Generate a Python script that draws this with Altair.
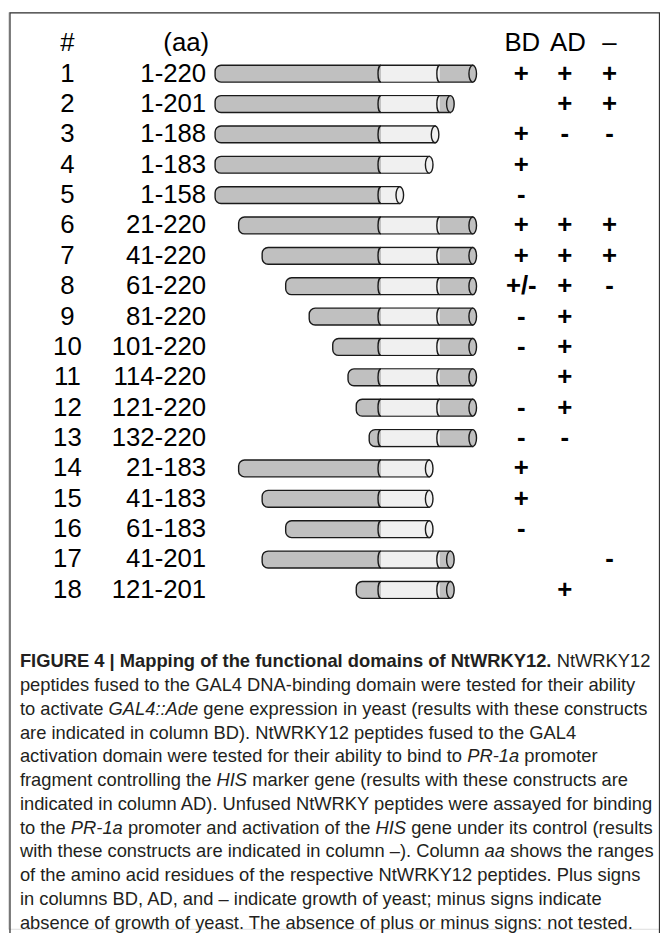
import altair as alt
import pandas as pd

# ---------------- data ----------------
rows = list(range(1, 19))
starts = [1, 1, 1, 1, 1, 21, 41, 61, 81, 101, 114, 121, 132, 21, 41, 61, 41, 121]
ends = [220, 201, 188, 183, 158, 220, 220, 220, 220, 220, 220, 220, 220, 183, 183, 183, 201, 201]
bd = ["+", "", "+", "+", "-", "+", "+", "+/-", "-", "-", "", "-", "-", "+", "+", "-", "", ""]
ad = ["+", "+", "-", "", "", "+", "+", "+", "+", "+", "+", "+", "-", "", "", "", "", "+"]
un = ["+", "+", "-", "", "", "+", "+", "-", "", "", "", "", "", "", "", "", "-", ""]
light_from = 142   # start of the light (central) domain, residue
light_to = 192     # end of the light domain, residue
headers = ["#", "(aa)", "BD", "AD", "\u2013"]

caption_lines = [
    [("FIGURE 4 | Mapping of the functional domains of NtWRKY12.", "bold"), (" NtWRKY12", "normal")],
    [("peptides fused to the GAL4 DNA-binding domain were tested for their ability", "normal")],
    [("to activate ", "normal"), ("GAL4::Ade", "italic"), (" gene expression in yeast (results with these constructs", "normal")],
    [("are indicated in column BD). NtWRKY12 peptides fused to the GAL4", "normal")],
    [("activation domain were tested for their ability to bind to ", "normal"), ("PR-1a", "italic"), (" promoter", "normal")],
    [("fragment controlling the ", "normal"), ("HIS", "italic"), (" marker gene (results with these constructs are", "normal")],
    [("indicated in column AD). Unfused NtWRKY peptides were assayed for binding", "normal")],
    [("to the ", "normal"), ("PR-1a", "italic"), (" promoter and activation of the ", "normal"), ("HIS", "italic"), (" gene under its control (results", "normal")],
    [("with these constructs are indicated in column \u2013). Column ", "normal"), ("aa", "italic"), (" shows the ranges", "normal")],
    [("of the amino acid residues of the respective NtWRKY12 peptides. Plus signs", "normal")],
    [("in columns BD, AD, and \u2013 indicate growth of yeast; minus signs indicate", "normal")],
    [("absence of growth of yeast. The absence of plus or minus signs: not tested.", "normal")],
]

# ---------------- layout ----------------
W, H = 658, 925
FONT = "Liberation Sans"
GRAY = "#c0c0c0"
LIGHT = "#f0f0f0"
INK = "#1a1a1a"
SW = 1.4
BAR_H = 17.0

# x: residue -> pixel (residue 1 at px 209, residue 220 at px 469)
bx = (469 - 209) / 219.0
ax = 209 - bx
xdom = [(0 - ax) / bx, (W - ax) / bx]
# y: row -> pixel (row 1 at 62, row 18 at 583)
step = (583 - 62) / 17.0
ydom = [1 - 62 / step, 1 + (H - 62) / step]
xs = alt.Scale(domain=xdom, range=[0, W], nice=False, zero=False)
ys = alt.Scale(domain=ydom, range=[0, H], nice=False, zero=False)

hb = BAR_H / 2 / step
hl = (BAR_H / 2 - SW / 2) / step

bars = pd.DataFrame({"row": rows, "start": starts, "end": ends})
bars["y1"] = bars["row"] - hb
bars["y2"] = bars["row"] + hb
bars["ly1"] = bars["row"] - hl
bars["ly2"] = bars["row"] + hl

light = bars[(bars["start"] < light_to) & (bars["end"] > light_from)].copy()
light["ls"] = light["start"].clip(lower=light_from)
light["le"] = light["end"].clip(upper=light_to)

bnd = []
for r, s, e in zip(rows, starts, ends):
    for b in (light_from, light_to):
        if s < b < e:
            bnd.append({"row": r, "pos": b})
bnd = pd.DataFrame(bnd)

caps = bars.copy()
caps["capfill"] = [LIGHT if light_from < e <= light_to else GRAY for e in ends]

CAP_PATH = "M0.45,0 A0.45,1 0 1,1 -0.45,0 A0.45,1 0 1,1 0.45,0 Z"
ARC_PATH = "M0,-1 A0.35,1 0 0,0 0,1"

X_NUM, X_AA, X_BD, X_AD, X_UN = 60, 200, 518, 562, 607

base = alt.Chart(bars).mark_rect(
    fill=GRAY, stroke=INK, strokeWidth=SW,
    cornerRadiusTopLeft=6, cornerRadiusBottomLeft=6
).encode(
    x=alt.X("start:Q", scale=xs, axis=None), x2="end:Q",
    y=alt.Y("y1:Q", scale=ys, axis=None), y2="y2:Q",
)

lightl = alt.Chart(light).mark_rect(fill=LIGHT, strokeWidth=0).encode(
    x=alt.X("ls:Q", scale=xs, axis=None), x2="le:Q",
    y=alt.Y("ly1:Q", scale=ys, axis=None), y2="ly2:Q",
)

arcs = alt.Chart(bnd).mark_point(
    shape=ARC_PATH, filled=False, stroke=INK, strokeWidth=SW, size=BAR_H ** 2, opacity=1
).encode(
    x=alt.X("pos:Q", scale=xs, axis=None),
    y=alt.Y("row:Q", scale=ys, axis=None),
)

capl = alt.Chart(caps).mark_point(
    shape=CAP_PATH, filled=True, stroke=INK, strokeWidth=SW, size=BAR_H ** 2, opacity=1
).encode(
    x=alt.X("end:Q", scale=xs, axis=None),
    y=alt.Y("row:Q", scale=ys, axis=None),
    fill=alt.Fill("capfill:N", scale=None),
)

lab = pd.DataFrame({
    "row": rows,
    "num": [str(r) for r in rows],
    "rng": [f"{s}-{e}" for s, e in zip(starts, ends)],
})
numt = alt.Chart(lab).mark_text(font=FONT, fontSize=26, align="center", baseline="middle", color="black").encode(
    x=alt.value(X_NUM), y=alt.Y("row:Q", scale=ys, axis=None), text="num:N")
rngt = alt.Chart(lab).mark_text(font=FONT, fontSize=26, align="right", baseline="middle", color="black").encode(
    x=alt.value(X_AA), y=alt.Y("row:Q", scale=ys, axis=None), text="rng:N")

sym = []
for r, a, b, c in zip(rows, bd, ad, un):
    for px, v in ((X_BD, a), (X_AD, b), (X_UN, c)):
        if v:
            sym.append({"row": r, "px": px, "s": v})
sym = pd.DataFrame(sym)
symt = alt.Chart(sym).mark_text(font=FONT, fontSize=26, fontWeight="bold", align="center", baseline="middle", color="black").encode(
    x=alt.X("px:Q", scale=None), y=alt.Y("row:Q", scale=ys, axis=None), text="s:N")

hdr = pd.DataFrame({
    "row": [0] * 5,
    "px": [X_NUM, X_AA + 3, X_BD + 1, X_AD + 3, X_UN],
    "al": ["center", "right", "center", "center", "center"],
    "t": headers,
})
hdr_c = alt.Chart(hdr[hdr["al"] == "center"]).mark_text(font=FONT, fontSize=26, align="center", baseline="middle", color="black").encode(
    x=alt.X("px:Q", scale=None), y=alt.Y("row:Q", scale=ys, axis=None), text="t:N")
hdr_r = alt.Chart(hdr[hdr["al"] == "right"]).mark_text(font=FONT, fontSize=26, align="right", baseline="middle", color="black").encode(
    x=alt.X("px:Q", scale=None), y=alt.Y("row:Q", scale=ys, axis=None), text="t:N")

# ---- caption: place styled runs using Arial/Liberation metrics ----
REG = {" ": 278, "(": 333, ")": 333, ",": 278, "-": 333, ".": 278, "/": 278, ":": 278, ";": 278, "|": 260, "\u2013": 556}
REG.update({d: 556 for d in "0123456789"})
REG.update(dict(zip("ABCDEFGHIJKLMNOPQRSTUVWXYZ",
                    [667, 667, 722, 722, 667, 611, 778, 722, 278, 500, 667, 556, 833, 722, 778, 667, 778, 722, 667, 611, 722, 667, 944, 667, 667, 611])))
REG.update(dict(zip("abcdefghijklmnopqrstuvwxyz",
                    [556, 556, 500, 556, 556, 278, 556, 556, 222, 222, 500, 222, 833, 556, 556, 556, 556, 333, 500, 278, 556, 500, 722, 500, 500, 500])))
BOLD = {" ": 278, "(": 333, ")": 333, ",": 278, "-": 333, ".": 278, ":": 333, "|": 280}
BOLD.update({d: 556 for d in "0123456789"})
BOLD.update(dict(zip("ABCDEFGHIJKLMNOPQRSTUVWXYZ",
                     [722, 722, 722, 722, 667, 611, 778, 722, 278, 556, 722, 611, 833, 722, 778, 667, 778, 722, 667, 611, 722, 667, 944, 667, 667, 611])))
BOLD.update(dict(zip("abcdefghijklmnopqrstuvwxyz",
                     [556, 611, 556, 611, 556, 333, 611, 611, 278, 278, 556, 278, 889, 611, 611, 611, 611, 389, 556, 333, 611, 556, 778, 556, 556, 500])))

CFS = 18.5
CX0 = 12
CY0 = 655
CLH = 24


def tw(s, style):
    tab = BOLD if style == "bold" else REG
    return sum(tab.get(ch, 556) for ch in s) / 1000.0 * CFS


cap_runs = []
for i, line in enumerate(caption_lines):
    cur = CX0
    for txt, style in line:
        lead = len(txt) - len(txt.lstrip(" "))
        x = cur + tw(" " * lead, style)
        cap_runs.append({"x": x, "y": CY0 + i * CLH, "t": txt.strip(" "), "style": style})
        cur += tw(txt, style)
cap_runs = pd.DataFrame(cap_runs)


def cap_layer(style, **kw):
    return alt.Chart(cap_runs[cap_runs["style"] == style]).mark_text(
        font=FONT, fontSize=CFS, align="left", baseline="middle", color="#231f20", **kw
    ).encode(x=alt.X("x:Q", scale=None), y=alt.Y("y:Q", scale=None), text="t:N")


cap_n = cap_layer("normal")
cap_b = cap_layer("bold", fontWeight="bold")
cap_i = cap_layer("italic", fontStyle="italic")

frame = alt.Chart(pd.DataFrame({"a": [0]})).mark_rect(
    fill="white", fillOpacity=0, stroke="#333333", strokeWidth=1.3
).encode(x=alt.value(2), x2=alt.value(657.5), y=alt.value(0.7), y2=alt.value(H + 20))

chart = alt.layer(
    frame, base, lightl, arcs, capl, numt, rngt, symt, hdr_c, hdr_r, cap_n, cap_b, cap_i
).properties(
    width=W, height=H, padding=0, autosize=alt.AutoSizeParams(type="none")
).configure_view(strokeWidth=0).configure(background="white")

chart.save("out.html", embed_options={"renderer": "svg", "actions": False})
